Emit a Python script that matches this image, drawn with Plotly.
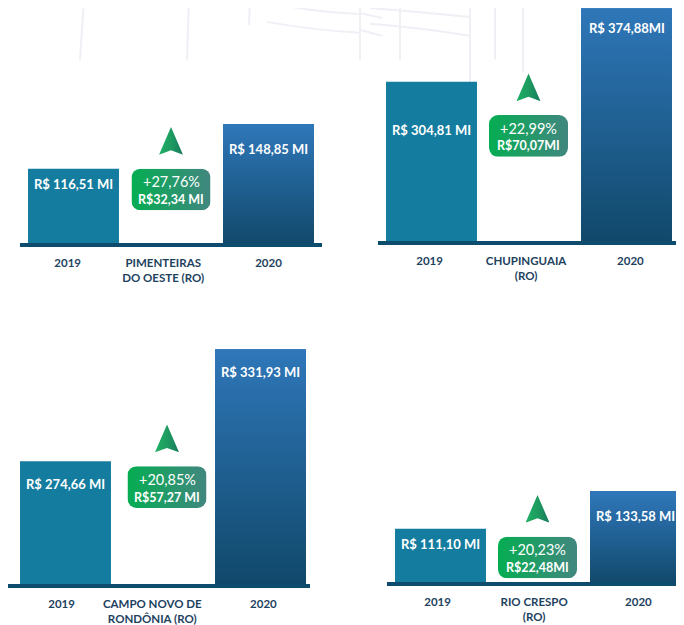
import base64
import plotly.graph_objects as go

# ---- data -------------------------------------------------------------
CITIES = ["PIMENTEIRAS<br>DO OESTE (RO)", "CHUPINGUAIA<br>(RO)",
          "CAMPO NOVO DE<br>RONDÔNIA (RO)", "RIO CRESPO<br>(RO)"]
YEARS = ["2019", "2020"]
VALUES_2019 = [116.51, 304.81, 274.66, 111.10]
VALUES_2020 = [148.85, 374.88, 331.93, 133.58]
LABELS_2019 = ["R$ 116,51 MI", "R$ 304,81 MI", "R$ 274,66 MI", "R$ 111,10 MI"]
LABELS_2020 = ["R$ 148,85 MI", "R$ 374,88MI", "R$ 331,93 MI", "R$ 133,58 MI"]
GROWTH_PCT = ["+27,76%", "+22,99%", "+20,85%", "+20,23%"]
GROWTH_ABS = ["R$32,34 MI", "R$70,07MI", "R$57,27 MI", "R$22,48MI"]

# ---- layout (pixels of the 684x625 page) --------------------------------
PAGE_W, PAGE_H = 684, 625
OFF = 8                      # the html body margin
W, H = PAGE_W - OFF, PAGE_H - OFF
UNIT = 97.5                  # px between category slots
BAR_W = 0.933
# baseline left/right, 2019 bar centre, plot top, plot bottom, y-range
PANELS = [
    dict(x0=20, x1=322, c=73.5, top=8, bot=245, yr=[62.6, 233.0],
         city_at=0.92, yr_at=(-0.06, 2.0), off=(-5, -15), badge=(171, 170)),
    dict(x0=378, x1=680, c=431.5, top=8, bot=243, yr=[152.4, 375.2],
         city_at=0.97, yr_at=(-0.02, 2.04), off=(-38, -10), badge=(528.5, 116)),
    dict(x0=8, x1=310, c=65.5, top=300, bot=589, yr=[211.8, 358.3],
         city_at=0.89, yr_at=(-0.04, 2.03), off=(-13, -13), badge=(167, 470)),
    dict(x0=387, x1=684, c=440.5, top=300, bot=587, yr=[79.15, 248.95],
         city_at=0.96, yr_at=(-0.03, 2.03), off=(-5, -15), badge=(537.5, 541)),
]
FONT = "Lato"
NAVY = "rgb(30,66,94)"
C2019 = "rgb(20,124,158)"
C2020_TOP = "rgb(47,119,185)"
C2020_BOT = "rgb(16,72,106)"


def fx(px):
    return (px - OFF) / W


def fy(py):
    return 1 - (py - OFF) / H


def svg_uri(svg):
    return "data:image/svg+xml;base64," + base64.b64encode(svg.encode()).decode()


BADGE_SVG = svg_uri(
    "<svg xmlns='http://www.w3.org/2000/svg' width='79' height='42' viewBox='0 0 79 42'>"
    "<defs><linearGradient id='g' x1='0' x2='1' y1='0' y2='0'>"
    "<stop offset='0' stop-color='#05AD52'/><stop offset='1' stop-color='#41877F'/>"
    "</linearGradient></defs><rect width='79' height='42' rx='9' ry='9' fill='url(#g)'/></svg>")
ARROW_SVG = svg_uri(
    "<svg xmlns='http://www.w3.org/2000/svg' width='24' height='28' viewBox='0 0 24 28'>"
    "<defs><linearGradient id='a' x1='0' x2='1' y1='0' y2='0'>"
    "<stop offset='0' stop-color='#1FB064'/><stop offset='0.5' stop-color='#1E9C60'/>"
    "<stop offset='1' stop-color='#167A5E'/></linearGradient></defs>"
    "<polygon points='12,0 24,28 12,23.5 0,28' fill='url(#a)'/></svg>")

fig = go.Figure()
images = []
annotations = []

for i, p in enumerate(PANELS):
    n = "" if i == 0 else str(i + 1)
    xa, ya = "x" + n, "y" + n
    lo = (p["x0"] - p["c"]) / UNIT
    hi = (p["x1"] - p["c"]) / UNIT

    fig.add_trace(go.Bar(x=[0, 2], y=[VALUES_2019[i], VALUES_2020[i]], width=BAR_W,
                         marker=dict(color=[C2019, C2020_TOP], line_width=0),
                         xaxis=xa, yaxis=ya, showlegend=False, hoverinfo="skip"))
    # gradient overlay for the 2020 bar
    v = VALUES_2020[i]
    fig.add_trace(go.Scatter(
        x=[2 - BAR_W / 2, 2 + BAR_W / 2, 2 + BAR_W / 2, 2 - BAR_W / 2, 2 - BAR_W / 2],
        y=[0, 0, v, v, 0], mode="none", fill="toself",
        fillgradient=dict(type="vertical", start=p["yr"][0], stop=v,
                          colorscale=[[0, C2020_BOT], [1, C2020_TOP]]),
        xaxis=xa, yaxis=ya, showlegend=False, hoverinfo="skip"))

    fig.update_layout({
        "xaxis" + n: dict(domain=[max(fx(p["x0"]), 0), min(fx(p["x1"]), 1)], range=[lo, hi],
                          anchor=ya, showgrid=False, zeroline=False,
                          showline=True, linewidth=4, linecolor="rgb(14,76,110)",
                          tickmode="array",
                          tickvals=[p["yr_at"][0], p["city_at"], p["yr_at"][1]],
                          ticktext=[YEARS[0], CITIES[i], YEARS[1]],
                          ticks="", ticklabelstandoff=6,
                          tickfont=dict(family=FONT, size=11.5, color=NAVY, weight="bold")),
        "yaxis" + n: dict(domain=[fy(p["bot"]), fy(p["top"])], range=p["yr"],
                          anchor=xa, visible=False, showgrid=False),
    })

    for x, val, txt, off in [(0, VALUES_2019[i], LABELS_2019[i], p["off"][0]),
                             (2, VALUES_2020[i], LABELS_2020[i], p["off"][1])]:
        annotations.append(dict(x=x, y=val, xref=xa, yref=ya, text=txt, showarrow=False,
                                xanchor="center", yanchor="top", yshift=off,
                                font=dict(family=FONT, size=13, color="white", weight="bold")))

    bx, by = p["badge"]
    images.append(dict(source=BADGE_SVG, xref="paper", yref="paper", x=fx(bx), y=fy(by),
                       sizex=79 / W, sizey=42 / H, xanchor="center", yanchor="top",
                       sizing="stretch", layer="above"))
    images.append(dict(source=ARROW_SVG, xref="paper", yref="paper", x=fx(bx),
                       y=fy(by - 42), sizex=24 / W, sizey=28 / H,
                       xanchor="center", yanchor="top", sizing="stretch", layer="above"))
    annotations.append(dict(x=fx(bx), y=fy(by + 13), xref="paper", yref="paper",
                            text=GROWTH_PCT[i], showarrow=False,
                            xanchor="center", yanchor="middle",
                            font=dict(family=FONT, size=14.5, color="white")))
    annotations.append(dict(x=fx(bx), y=fy(by + 31), xref="paper", yref="paper",
                            text=GROWTH_ABS[i], showarrow=False,
                            xanchor="center", yanchor="middle",
                            font=dict(family=FONT, size=12.5, color="white", weight="bold")))

# faint wind-turbine watermark in the background
WM = "rgb(238,240,245)"
shapes = []
for (x0, y0, x1, y1) in [(84, 0, 80, 60), (189, 0, 187, 60), (250, 0, 249, 25),
                         (360, 0, 360, 60), (400, 5, 400, 60), (495, 0, 495, 60),
                         (470, 0, 470, 240), (523, 0, 523, 72), (360, 13, 382, 18),
                         (360, 30, 382, 36)]:
    shapes.append(dict(type="line", xref="paper", yref="paper", x0=fx(x0), y0=fy(y0),
                       x1=fx(x1), y1=fy(y1), line=dict(color=WM, width=2), layer="below"))
for (x0, y0, xm, ym, x1, y1) in [(267, 2, 310, 12, 360, 14), (267, 22, 310, 30, 360, 33),
                                 (370, 8, 420, 12, 470, 17), (370, 24, 420, 28, 470, 36)]:
    shapes.append(dict(type="path", xref="paper", yref="paper",
                       path=f"M {fx(x0)},{fy(y0)} Q {fx(xm)},{fy(ym)} {fx(x1)},{fy(y1)}",
                       line=dict(color=WM, width=2), layer="below"))

fig.update_layout(width=W, height=H, autosize=False,
                  margin=dict(l=0, r=0, t=0, b=0),
                  paper_bgcolor="white", plot_bgcolor="rgba(0,0,0,0)",
                  barmode="overlay", showlegend=False,
                  images=images, annotations=annotations, shapes=shapes)

fig.write_html("out.html")
